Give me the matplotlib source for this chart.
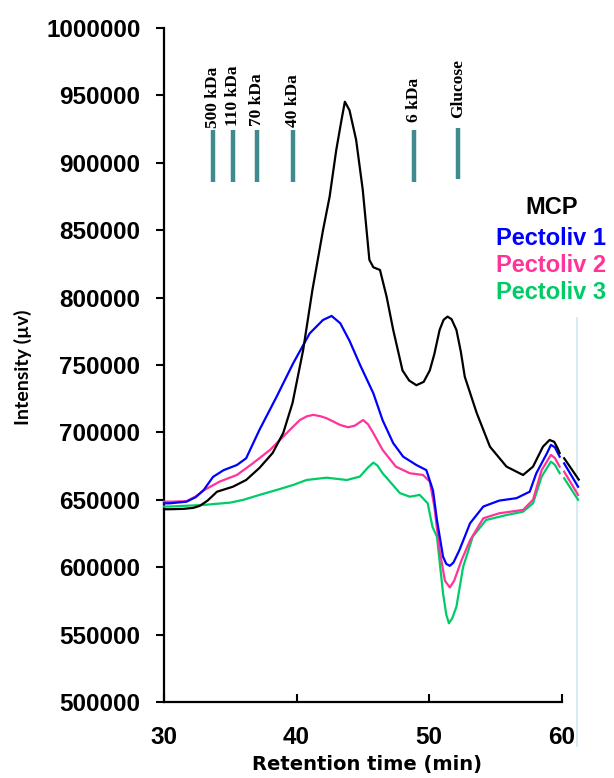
import matplotlib
matplotlib.use("Agg")
import matplotlib.pyplot as plt
from matplotlib.ticker import FuncFormatter

# ---- data ----
mcp_t = [30.0, 30.45, 31.5, 32.2, 32.7, 33.3, 34.0, 35.2, 36.2, 37.2, 38.2, 39.0, 39.7, 40.5, 41.2, 42.0,
         42.5, 43.0, 43.4, 43.65, 44.0, 44.5, 45.0, 45.5, 45.8, 46.3, 46.8, 47.3, 48.0, 48.5, 49.05, 49.6,
         50.06, 50.4, 50.8, 51.1, 51.4, 51.7, 52.07, 52.4, 52.7, 53.6, 54.6, 55.85, 57.1, 57.85, 58.6,
         59.1, 59.45, 59.7, 59.86]
mcp_v = [643000, 643000, 643300, 644000, 645500, 649500, 656000, 659700, 664700, 673600, 684700, 699600,
         721800, 761000, 805600, 850000, 874900, 909500, 932000, 945300, 939000, 917000, 880000, 828000,
         822500, 820500, 800700, 776000, 746000, 738500, 735000, 737500, 746000, 758000, 776000, 783500,
         785900, 784000, 776000, 760000, 741300, 714400, 689400, 674600, 668400, 674600, 689400, 694400,
         693000, 688400, 684700]
mcp_t2 = [60.2, 61.3]
mcp_v2 = [680800, 665000]

p1_t = [30.0, 30.45, 31.7, 32.4, 33.0, 33.7, 34.5, 35.5, 36.2, 37.2, 38.5, 39.75, 41.0, 42.0, 42.65, 43.3,
        44.0, 44.8, 45.8, 46.5, 47.3, 48.05, 49.05, 49.8, 50.3, 50.6, 51.06, 51.3, 51.57, 51.85, 52.3,
        53.1, 54.1, 55.3, 56.6, 57.6, 58.1, 58.9, 59.2, 59.5, 59.86]
p1_v = [647400, 647400, 648600, 652000, 657300, 667000, 672000, 675800, 680800, 701800, 726500, 751300,
        773500, 783400, 786400, 781000, 768000, 750000, 729000, 709000, 692000, 682000, 675800, 672000,
        657000, 635000, 607800, 602500, 601000, 603500, 612800, 632600, 645000, 649400, 651200, 656000,
        669700, 684500, 690700, 689000, 682000]
p1_t2 = [60.2, 61.25]
p1_v2 = [677000, 659700]

p2_t = [30.0, 30.45, 31.7, 32.4, 33.0, 34.2, 35.5, 36.7, 38.0, 39.25, 40.25, 40.8, 41.26, 41.8, 42.27,
        43.3, 43.9, 44.4, 45.03, 45.4, 45.8, 46.5, 47.5, 48.55, 49.55, 50.06, 50.4, 50.8, 51.2, 51.57,
        51.9, 52.45, 53.1, 54.1, 55.3, 57.1, 57.85, 58.5, 59.2, 59.5, 59.86]
p2_v = [648600, 648600, 649000, 652500, 657000, 663500, 668400, 677000, 687000, 699400, 709200, 712000,
        713000, 712000, 710500, 705500, 703800, 705000, 709200, 706000, 699400, 687000, 674600, 669700,
        668400, 663500, 645000, 612800, 590000, 585000, 590000, 605000, 620000, 636300, 640000, 642500,
        650000, 672000, 683300, 681000, 674600]
p2_t2 = [60.2, 61.25]
p2_v2 = [670900, 653600]

p3_t = [30.0, 30.45, 33.0, 35.0, 36.0, 37.2, 38.5, 39.75, 40.76, 42.27, 43.8, 44.78, 45.4, 45.8, 46.1,
        46.5, 47.8, 48.55, 49.3, 49.9, 50.26, 50.6, 51.06, 51.3, 51.5, 51.75, 52.07, 52.57, 53.3, 54.3,
        55.85, 57.1, 57.85, 58.5, 59.2, 59.5, 59.86]
p3_v = [645000, 645000, 646200, 647900, 650000, 653600, 657300, 661000, 664700, 666400, 664700, 667200,
        674000, 677600, 675500, 669700, 655000, 652300, 653600, 647400, 630000, 622600, 580700, 565000,
        558400, 562000, 570700, 600000, 622600, 635000, 638700, 641200, 647400, 667200, 678300, 676000,
        669700]
p3_t2 = [60.2, 61.25]
p3_v2 = [666000, 650000]

marker_names = ["500 kDa", "110 kDa", "70 kDa", "40 kDa", "6 kDa", "Glucose"]
marker_t = [33.7, 35.2, 37.0, 39.75, 48.85, 52.2]

series_names = ["MCP", "Pectoliv 1", "Pectoliv 2", "Pectoliv 3"]
series_colors = ["#000000", "#0000ff", "#ff3399", "#00cc66"]

x_ticks = [30, 40, 50, 60]
y_ticks = list(range(500000, 1000001, 50000))

# ---- figure ----
fig = plt.figure(figsize=(6.14, 7.78), dpi=100)
ax = fig.add_axes([0.2671, 0.0977, 0.9145 - 0.2671, 0.964 - 0.0977])

segments = [
    (mcp_t, mcp_v, mcp_t2, mcp_v2),
    (p1_t, p1_v, p1_t2, p1_v2),
    (p2_t, p2_v, p2_t2, p2_v2),
    (p3_t, p3_v, p3_t2, p3_v2),
]
for i in [3, 2, 1, 0]:
    t, v, t2, v2 = segments[i]
    ax.plot(t, v, color=series_colors[i], lw=1.6, clip_on=False, zorder=3, solid_joinstyle="round")
    ax.plot(t2, v2, color=series_colors[i], lw=1.6, clip_on=False, zorder=3)

ax.set_xlim(30, 60)
ax.set_ylim(500000, 1000000)
ax.set_xticks(x_ticks)
ax.set_yticks(y_ticks)
ax.yaxis.set_major_formatter(FuncFormatter(lambda v, p: f"{int(round(v))}"))

for s in ["top", "right"]:
    ax.spines[s].set_visible(False)
for s in ["left", "bottom"]:
    ax.spines[s].set_linewidth(1.6)

ax.tick_params(axis="y", direction="out", length=6, width=1.5, pad=11)
ax.tick_params(axis="x", direction="in", length=6, width=1.5, pad=17)

for lab in ax.get_xticklabels() + ax.get_yticklabels():
    lab.set_fontfamily("Liberation Sans")
    lab.set_fontweight("bold")
    lab.set_fontsize(17.5)

ax.set_xlabel("Retention time (min)", fontfamily="DejaVu Sans", fontweight="bold", fontsize=14)
ax.xaxis.set_label_coords(0.511, -0.078)
ax.set_ylabel("Intensity (µv)", fontfamily="Lato", fontweight="bold", fontsize=14)
ax.yaxis.set_label_coords(-0.355, 0.496)
ax.yaxis.label.set_va("center")

# molecular weight markers
label_gap = {"500 kDa": 2000, "110 kDa": 3000, "70 kDa": 3500, "40 kDa": 2500, "6 kDa": 6500, "Glucose": 7000}
for name, t in zip(marker_names, marker_t):
    lo, hi = (886000, 924000) if name != "Glucose" else (888000, 926000)
    ax.plot([t, t], [lo, hi], color="#3e8a8f", lw=3.2, solid_capstyle="butt", zorder=2)
    ax.text(t, hi + label_gap[name], name, rotation=90, ha="center", va="bottom",
            fontfamily="Liberation Serif", fontweight="bold", fontsize=12.5)

# legend as coloured text
legend_y = [0.733, 0.687, 0.647, 0.607]
for name, c, yy in zip(series_names, series_colors, legend_y):
    if name == "MCP":
        ax.text(0.975, yy, name, color=c, transform=ax.transAxes, ha="center", va="center",
                fontfamily="Liberation Sans", fontweight="bold", fontsize=17)
    else:
        ax.text(0.835, yy, name, color=c, transform=ax.transAxes, ha="left", va="center",
                fontfamily="Liberation Sans", fontweight="bold", fontsize=17)

# light vertical frame line at right
ax.axvline(61.2, ymin=-0.065, ymax=0.57, color="#cfe6ea", lw=1.2, clip_on=False, zorder=1)

fig.savefig("out.png", dpi=100)
